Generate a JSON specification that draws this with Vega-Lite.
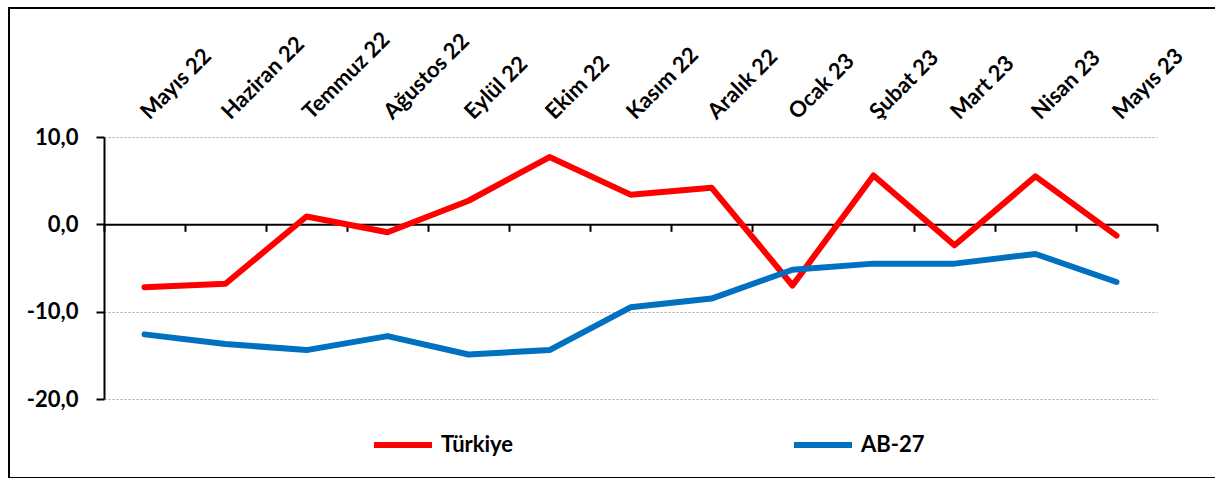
{
  "$schema": "https://vega.github.io/schema/vega-lite/v6.json",
  "autosize": {"type": "none"},
  "width": 1210,
  "height": 470,
  "padding": {"left": 9, "top": 8, "right": 0, "bottom": 0},
  "config": {
    "view": {"stroke": "#000000", "strokeWidth": 2},
    "font": "Lato",
    "axis": {"labelFont": "Lato", "labelColor": "#000000", "labelFontWeight": "bold", "labelFontSize": 22},
    "legend": {"labelFont": "Lato"}
  },
  "data": {
    "values": [
      {"ay": "Mayıs 22", "seri": "Türkiye", "deger": -7.2},
      {"ay": "Haziran 22", "seri": "Türkiye", "deger": -6.8},
      {"ay": "Temmuz 22", "seri": "Türkiye", "deger": 0.9},
      {"ay": "Ağustos 22", "seri": "Türkiye", "deger": -0.9},
      {"ay": "Eylül 22", "seri": "Türkiye", "deger": 2.7},
      {"ay": "Ekim 22", "seri": "Türkiye", "deger": 7.7},
      {"ay": "Kasım 22", "seri": "Türkiye", "deger": 3.4},
      {"ay": "Aralık 22", "seri": "Türkiye", "deger": 4.2},
      {"ay": "Ocak 23", "seri": "Türkiye", "deger": -7.0},
      {"ay": "Şubat 23", "seri": "Türkiye", "deger": 5.6},
      {"ay": "Mart 23", "seri": "Türkiye", "deger": -2.4},
      {"ay": "Nisan 23", "seri": "Türkiye", "deger": 5.5},
      {"ay": "Mayıs 23", "seri": "Türkiye", "deger": -1.3},
      {"ay": "Mayıs 22", "seri": "AB-27", "deger": -12.6},
      {"ay": "Haziran 22", "seri": "AB-27", "deger": -13.7},
      {"ay": "Temmuz 22", "seri": "AB-27", "deger": -14.4},
      {"ay": "Ağustos 22", "seri": "AB-27", "deger": -12.8},
      {"ay": "Eylül 22", "seri": "AB-27", "deger": -14.9},
      {"ay": "Ekim 22", "seri": "AB-27", "deger": -14.4},
      {"ay": "Kasım 22", "seri": "AB-27", "deger": -9.5},
      {"ay": "Aralık 22", "seri": "AB-27", "deger": -8.5},
      {"ay": "Ocak 23", "seri": "AB-27", "deger": -5.2},
      {"ay": "Şubat 23", "seri": "AB-27", "deger": -4.5},
      {"ay": "Mart 23", "seri": "AB-27", "deger": -4.5},
      {"ay": "Nisan 23", "seri": "AB-27", "deger": -3.4},
      {"ay": "Mayıs 23", "seri": "AB-27", "deger": -6.6}
    ]
  },
  "resolve": {"axis": {"x": "independent"}},
  "layer": [
    {
      "mark": {"type": "line", "strokeOpacity": 0},
      "encoding": {
        "x": {
          "field": "ay", "type": "nominal", "sort": null,
          "scale": {"range": [95, 1148], "paddingInner": 0, "paddingOuter": 0},
          "axis": {
            "orient": "bottom", "offset": -253.67, "title": null, "labels": false,
            "domain": true, "domainColor": "#000000", "domainWidth": 2,
            "ticks": true, "tickBand": "extent", "tickColor": "#000000", "tickWidth": 2, "tickSize": 7,
            "grid": false, "zindex": 0
          }
        },
        "y": {
          "field": "deger", "type": "quantitative",
          "scale": {"domain": [-20, 10], "range": [391, 129], "nice": false, "zero": false},
          "axis": {
            "orient": "left", "offset": -95, "title": null, "values": [-20, -10, 0, 10],
            "labelExpr": "replace(replace(format(datum.value, '.1f'), '.', ','), '\u2212', '-')",
            "domainColor": "#000000", "domainWidth": 2,
            "tickColor": "#000000", "tickWidth": 2, "tickSize": 8,
            "labelPadding": 18, "labelFlush": false, "labelOverlap": false,
            "grid": true, "gridColor": "#A6A6A6", "gridDash": [2, 2], "gridWidth": 1, "zindex": 0
          }
        }
      }
    },
    {
      "mark": {"type": "line", "strokeWidth": 6, "strokeCap": "round", "strokeJoin": "round"},
      "encoding": {
        "x": {
          "field": "ay", "type": "nominal", "sort": null,
          "axis": {
            "orient": "top", "offset": -129, "title": null, "domain": false, "ticks": false, "tickSize": 0,
            "grid": false, "labelAngle": -45, "labelAlign": "left", "labelBaseline": "middle",
            "labelPadding": 22, "labelOverlap": false
          }
        },
        "y": {"field": "deger", "type": "quantitative"},
        "color": {
          "field": "seri", "type": "nominal",
          "scale": {"domain": ["Türkiye", "AB-27"], "range": ["#FF0000", "#0070C0"]},
          "legend": {
            "orient": "none", "legendX": 362, "legendY": 405, "direction": "horizontal", "columns": 2,
            "title": null, "symbolType": "stroke", "symbolSize": 3364, "symbolStrokeWidth": 6,
            "labelFontSize": 22, "labelFontWeight": "bold", "labelColor": "#000000", "labelOffset": 6,
            "columnPadding": 268, "padding": 0
          }
        }
      }
    }
  ]
}
